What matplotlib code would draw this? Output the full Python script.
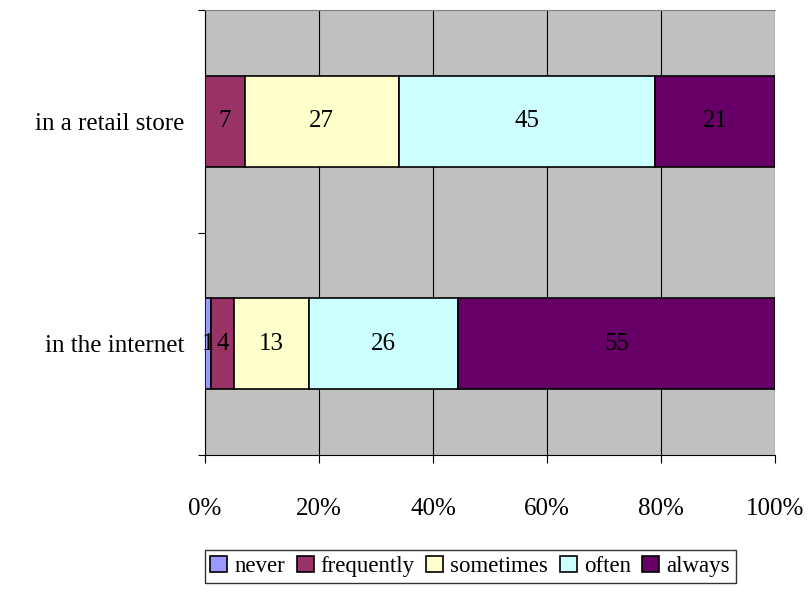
import matplotlib.pyplot as plt
import numpy as np

categories = ['in the internet', 'in a retail store']
series = ['never', 'frequently', 'sometimes', 'often', 'always']
never = [1, 0]
frequently = [4, 7]
sometimes = [13, 27]
often = [26, 45]
always = [55, 21]
colors = ['#9999FF', '#993366', '#FFFFCC', '#CCFFFF', '#660066']

plt.rcParams['font.family'] = ['Liberation Serif', 'DejaVu Serif']

data = np.array([never, frequently, sometimes, often, always], dtype=float)
totals = data.sum(axis=0)
pct = data / totals * 100

fig = plt.figure(figsize=(8.1, 5.97), dpi=100)
ax = fig.add_axes([205 / 810, 1 - 455 / 597, 570 / 810, 445 / 597])
ax.set_facecolor('#C0C0C0')

y = np.arange(len(categories))
left = np.zeros(len(categories))
for i in range(len(series)):
    ax.barh(y, pct[i], left=left, height=0.41, color=colors[i],
            edgecolor='black', linewidth=1.2, label=series[i], zorder=3)
    for j in range(len(categories)):
        if data[i][j] > 0:
            ax.text(left[j] + pct[i][j] / 2, y[j], '%d' % data[i][j],
                    ha='center', va='center', fontsize=18, zorder=4)
    left = left + pct[i]

ax.set_xlim(0, 100)
ax.set_ylim(-0.5, 1.5)
ax.set_xticks([0, 20, 40, 60, 80, 100])
ax.set_xticklabels(['0%', '20%', '40%', '60%', '80%', '100%'], fontsize=18)
ax.xaxis.grid(True, color='black', linewidth=0.8, zorder=1)
ax.set_axisbelow(True)
ax.set_yticks([-0.5, 0.5, 1.5])
ax.set_yticklabels([])
ax.set_yticks(y, minor=True)
ax.set_yticklabels(categories, minor=True, fontsize=18)
ax.tick_params(axis='y', which='minor', length=0, pad=15)
ax.tick_params(axis='y', which='major', length=5, direction='out')
ax.tick_params(axis='x', length=6, direction='out', pad=25)
ax.spines['top'].set_color('#808080')
ax.spines['right'].set_visible(False)

leg = ax.legend(loc='upper center', bbox_to_anchor=(0.465, -0.213), ncol=5,
                fontsize=16.5, frameon=True, fancybox=False, edgecolor='black',
                handlelength=0.75, handleheight=0.75, handletextpad=0.3,
                columnspacing=0.5, borderpad=0.25, borderaxespad=0)
leg.get_frame().set_linewidth(1)

fig.savefig('out.png', dpi=100)
